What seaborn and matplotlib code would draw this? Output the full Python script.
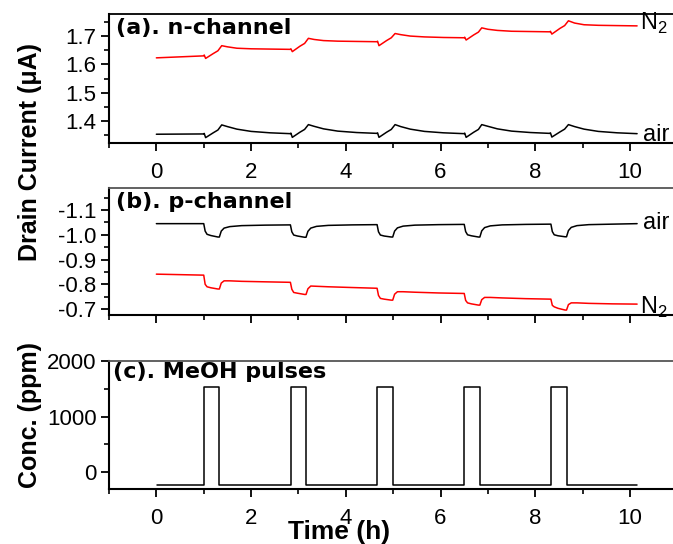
import numpy as np
import pandas as pd
import matplotlib
matplotlib.use("Agg")
import matplotlib.pyplot as plt
from matplotlib.ticker import MultipleLocator
import seaborn as sns

# ---------------- data ----------------
# (a) n-channel drain current (uA)
t_a = [0, 1.0, 1.01, 1.04, 1.2, 1.3, 1.38, 1.5, 1.7, 2.0, 2.4, 2.83,
       2.84, 2.87, 3.03, 3.13, 3.21, 3.33, 3.53, 3.83, 4.23, 4.66,
       4.67, 4.70, 4.86, 4.96, 5.04, 5.16, 5.36, 5.66, 6.06, 6.50,
       6.51, 6.54, 6.70, 6.80, 6.87, 7.00, 7.20, 7.50, 7.90, 8.31,
       8.32, 8.35, 8.52, 8.62, 8.70, 8.83, 9.03, 9.33, 9.73, 10.15]
n_n2 = [1.623, 1.630, 1.633, 1.621, 1.638, 1.648, 1.666, 1.662, 1.657, 1.655, 1.654, 1.653,
        1.655, 1.645, 1.664, 1.674, 1.692, 1.688, 1.684, 1.682, 1.681, 1.680,
        1.682, 1.666, 1.684, 1.694, 1.709, 1.705, 1.700, 1.697, 1.695, 1.694,
        1.696, 1.686, 1.704, 1.714, 1.729, 1.724, 1.720, 1.717, 1.716, 1.715,
        1.717, 1.707, 1.727, 1.737, 1.754, 1.746, 1.740, 1.738, 1.737, 1.736]
n_air = [1.353, 1.354, 1.356, 1.341, 1.358, 1.368, 1.386, 1.380, 1.371, 1.363, 1.358, 1.355,
         1.357, 1.342, 1.360, 1.370, 1.387, 1.381, 1.372, 1.364, 1.359, 1.356,
         1.358, 1.342, 1.360, 1.370, 1.387, 1.380, 1.371, 1.363, 1.358, 1.355,
         1.357, 1.342, 1.360, 1.370, 1.387, 1.381, 1.372, 1.364, 1.359, 1.356,
         1.358, 1.343, 1.361, 1.371, 1.387, 1.380, 1.371, 1.363, 1.358, 1.355]

# (b) p-channel drain current (uA)
t_b = [0,
       1.00, 1.03, 1.07, 1.15, 1.30, 1.33, 1.37, 1.43, 1.55, 1.80, 2.30,
       2.83, 2.86, 2.90, 2.98, 3.13, 3.16, 3.20, 3.26, 3.38, 3.63, 4.13,
       4.66, 4.69, 4.73, 4.81, 4.96, 4.99, 5.03, 5.09, 5.21, 5.46, 5.96,
       6.50, 6.53, 6.57, 6.65, 6.80, 6.83, 6.87, 6.93, 7.05, 7.30, 7.80,
       8.33, 8.36, 8.40, 8.48, 8.63, 8.66, 8.70, 8.76, 8.88, 9.13, 9.63,
       10.15]
p_air = [-1.045,
         -1.045, -1.015, -1.002, -0.997, -0.991, -0.991, -1.015, -1.027, -1.033, -1.037, -1.039,
         -1.040, -1.012, -0.999, -0.995, -0.990, -0.990, -1.014, -1.027, -1.034, -1.038, -1.040,
         -1.041, -1.012, -0.999, -0.995, -0.991, -0.991, -1.015, -1.028, -1.035, -1.039, -1.041,
         -1.042, -1.013, -1.000, -0.996, -0.991, -0.991, -1.016, -1.029, -1.036, -1.040, -1.042,
         -1.043, -1.013, -1.000, -0.996, -0.992, -0.992, -1.017, -1.030, -1.037, -1.041, -1.043,
         -1.045]
p_n2 = [-0.841,
        -0.837, -0.800, -0.790, -0.786, -0.781, -0.781, -0.805, -0.814, -0.814, -0.812, -0.810,
        -0.808, -0.780, -0.767, -0.764, -0.759, -0.759, -0.782, -0.793, -0.792, -0.790, -0.787,
        -0.784, -0.755, -0.743, -0.740, -0.736, -0.736, -0.760, -0.770, -0.770, -0.768, -0.765,
        -0.763, -0.735, -0.725, -0.721, -0.716, -0.716, -0.738, -0.747, -0.747, -0.745, -0.742,
        -0.740, -0.715, -0.709, -0.703, -0.696, -0.696, -0.718, -0.725, -0.725, -0.723, -0.721,
        -0.720]

# (c) MeOH pulses (ppm)
pulse_on = [1.01, 2.84, 4.66, 6.50, 8.33]
pulse_off = [1.33, 3.16, 4.99, 6.83, 8.66]
conc_base = -230
conc_high = 1530
t_c_start, t_c_end = 0.02, 10.15

t_c = [t_c_start]
conc = [conc_base]
for on, off in zip(pulse_on, pulse_off):
    t_c += [on, on, off, off]
    conc += [conc_base, conc_high, conc_high, conc_base]
t_c.append(t_c_end)
conc.append(conc_base)

# ---------------- style ----------------
sns.set_theme(style="ticks")
plt.rcParams["font.family"] = ["Liberation Sans", "DejaVu Sans"]
plt.rcParams["mathtext.fontset"] = "custom"
plt.rcParams["mathtext.rm"] = "Liberation Sans"
plt.rcParams["text.color"] = "black"
plt.rcParams["axes.labelcolor"] = "black"
plt.rcParams["xtick.color"] = "black"
plt.rcParams["ytick.color"] = "black"
plt.rcParams["axes.edgecolor"] = "black"

W, H = 673, 544
fig = plt.figure(figsize=(W / 100, H / 100), dpi=100)

left = 109 / W
def box(top_px, bot_px):
    return [left, 1 - bot_px / H, 1 - left + 0.01, (bot_px - top_px) / H]

ax_a = fig.add_axes(box(14, 143))
ax_b = fig.add_axes(box(188, 315))
ax_c = fig.add_axes(box(361, 489))

RED = "#ff0000"
sns.lineplot(x=t_a, y=n_n2, ax=ax_a, color=RED, lw=1.1, estimator=None, sort=False)
sns.lineplot(x=t_a, y=n_air, ax=ax_a, color="black", lw=1.1, estimator=None, sort=False)
sns.lineplot(x=t_b, y=p_air, ax=ax_b, color="black", lw=1.1, estimator=None, sort=False)
sns.lineplot(x=t_b, y=p_n2, ax=ax_b, color=RED, lw=1.1, estimator=None, sort=False)
sns.lineplot(x=t_c, y=conc, ax=ax_c, color="black", lw=1.1, estimator=None, sort=False)

ax_a.set_ylim(1.322, 1.778)
ax_b.set_ylim(-0.676, -1.189)
ax_c.set_ylim(-306, 2000)

for ax, ymaj, ymin in [(ax_a, 0.1, 0.05), (ax_b, 0.1, 0.05), (ax_c, 1000, 500)]:
    ax.set_xlim(-1, 11.05)
    ax.xaxis.set_major_locator(MultipleLocator(2))
    ax.xaxis.set_minor_locator(MultipleLocator(1))
    ax.yaxis.set_major_locator(MultipleLocator(ymaj))
    ax.yaxis.set_minor_locator(MultipleLocator(ymin))
    ax.tick_params(axis="both", which="major", direction="out", length=6, width=1.3,
                   labelsize=16, colors="black", pad=3)
    ax.tick_params(axis="both", which="minor", direction="out", length=3.5, width=1.2,
                   colors="black")
    ax.tick_params(axis="x", labelsize=16, pad=8)
    ax.spines["right"].set_visible(False)
    ax.spines["left"].set_linewidth(1.5)
    ax.spines["bottom"].set_linewidth(1.5)
    ax.spines["left"].set_color("black")
    ax.spines["bottom"].set_color("black")
    ax.spines["top"].set_linewidth(1.3)
    ax.spines["top"].set_color("#555555")
    ax.set_xlabel("")
    ax.set_ylabel("")
    ax.set_facecolor("white")

ax_a.spines["top"].set_color("black")
ax_b.tick_params(axis="x", which="major", labelbottom=False)
ax_b.yaxis.set_major_formatter(plt.FuncFormatter(lambda v, p: f"{v:.1f}"))
ax_a.yaxis.set_major_formatter(plt.FuncFormatter(lambda v, p: f"{v:.1f}"))

title_kw = dict(fontsize=16, fontweight="bold", family="DejaVu Sans", va="top", ha="left",
                color="black")
ax_a.text(0.012, 0.97, "(a). n-channel", transform=ax_a.transAxes, **title_kw)
ax_b.text(0.012, 0.97, "(b). p-channel", transform=ax_b.transAxes, **title_kw)
ax_c.text(0.007, 0.99, "(c). MeOH pulses", transform=ax_c.transAxes, **title_kw)

lab_kw = dict(fontsize=17, va="center", ha="left", color="black")
ax_a.text(10.22, 1.745, "N$_2$", **lab_kw)
ax_a.text(10.28, 1.352, "air", **lab_kw)
ax_b.text(10.28, -1.047, "air", **lab_kw)
ax_b.text(10.22, -0.706, "N$_2$", **lab_kw)

fig.text(30 / W, 1 - 152 / H, "Drain Current (\u03bcA)", rotation=90, fontsize=18,
         fontweight="bold", ha="center", va="center", color="black")
fig.text(30 / W, 1 - 415 / H, "Conc. (ppm)", rotation=90, fontsize=18,
         fontweight="bold", ha="center", va="center", color="black")
fig.text(339 / W, 1 - 532 / H, "Time (h)", fontsize=19,
         fontweight="bold", ha="center", va="center", color="black")

fig.savefig("out.png", dpi=100, facecolor="white")
